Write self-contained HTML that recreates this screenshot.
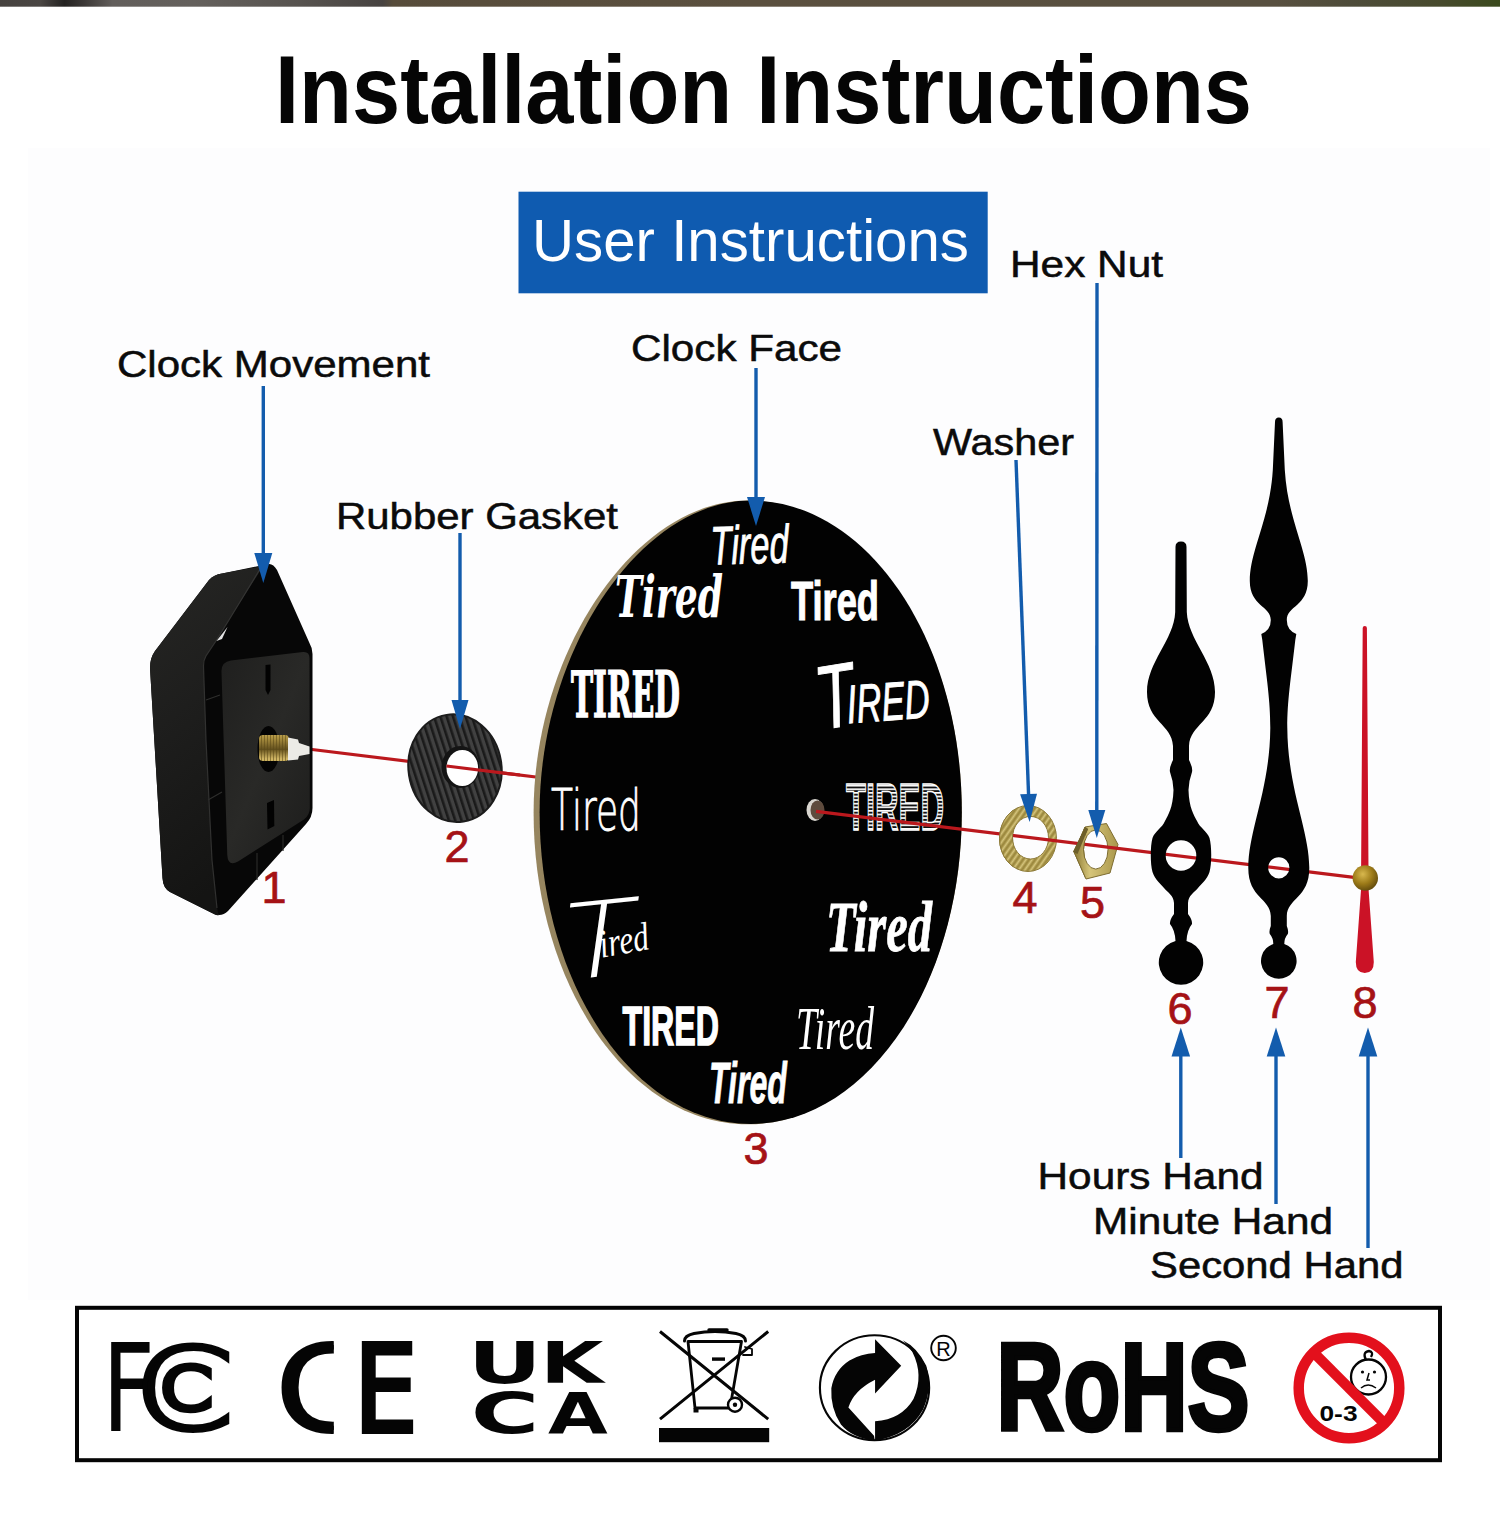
<!DOCTYPE html>
<html lang="en">
<head>
<meta charset="utf-8">
<title>Installation Instructions</title>
<style>
html,body{margin:0;padding:0;background:#fff;}
body{width:1500px;height:1514px;overflow:hidden;position:relative;font-family:"Liberation Sans",sans-serif;}
svg{position:absolute;left:0;top:0;display:block;}
.lab{font-family:"Liberation Sans",sans-serif;font-size:36px;fill:#0b0b0b;stroke:#0b0b0b;stroke-width:0.5px;}
.num{font-family:"Liberation Sans",sans-serif;font-size:45px;fill:#a51216;stroke:#a51216;stroke-width:0.7px;}
.arr{stroke:#135cad;stroke-width:3.4;fill:none;}
.arh{fill:#135cad;stroke:none;}
.w{fill:#fff;}
</style>
</head>
<body>
<svg width="1500" height="1514" viewBox="0 0 1500 1514">
<defs>
<linearGradient id="topstrip" x1="0" x2="1" y1="0" y2="0">
<stop offset="0" stop-color="#46423f"/><stop offset="0.027" stop-color="#4a4643"/><stop offset="0.043" stop-color="#242221"/><stop offset="0.056" stop-color="#3b3836"/><stop offset="0.075" stop-color="#625e5b"/><stop offset="0.13" stop-color="#64605c"/><stop offset="0.2" stop-color="#57534f"/><stop offset="0.255" stop-color="#474341"/><stop offset="0.262" stop-color="#574c3b"/><stop offset="0.5" stop-color="#5b503f"/><stop offset="0.85" stop-color="#585040"/><stop offset="0.9" stop-color="#4e4c3a"/><stop offset="0.96" stop-color="#474a2d"/><stop offset="1" stop-color="#3b4a1d"/>
</linearGradient>
</defs>
<rect x="0" y="0" width="1500" height="1514" fill="#ffffff"/>
<rect x="28" y="148" width="1462" height="1152" fill="#fdfdfe"/>
<!-- top photo strip -->
<rect id="topstrip-rect" x="0" y="0" width="1500" height="6.7" fill="url(#topstrip)"/>

<!-- TITLE -->
<text id="title" x="275" y="122.5" font-family="Liberation Sans, sans-serif" font-weight="700" font-size="96" fill="#050505" textLength="977" lengthAdjust="spacingAndGlyphs">Installation Instructions</text>

<!-- USER INSTRUCTIONS -->
<rect x="518.5" y="191.7" width="469.2" height="101.6" fill="#0f5bb0"/>
<text id="userinst" x="532" y="261" font-family="Liberation Sans, sans-serif" font-size="60" fill="#ffffff" textLength="437" lengthAdjust="spacingAndGlyphs">User Instructions</text>

<!--LABELS-->
<g class="lab">
<text x="117" y="376.5" textLength="313" lengthAdjust="spacingAndGlyphs">Clock Movement</text>
<text x="336" y="528.5" textLength="282" lengthAdjust="spacingAndGlyphs">Rubber Gasket</text>
<text x="631" y="361" textLength="211" lengthAdjust="spacingAndGlyphs">Clock Face</text>
<text x="933" y="455" textLength="141" lengthAdjust="spacingAndGlyphs">Washer</text>
<text x="1010" y="276.5" textLength="153" lengthAdjust="spacingAndGlyphs">Hex Nut</text>
<text x="1037.500" y="1189" textLength="226" lengthAdjust="spacingAndGlyphs">Hours Hand</text>
<text x="1093" y="1233.5" textLength="240" lengthAdjust="spacingAndGlyphs">Minute Hand</text>
<text x="1150" y="1277.5" textLength="253.5" lengthAdjust="spacingAndGlyphs">Second Hand</text>
</g>
<!--REDLINE-BACK-->
<line x1="300" y1="748.0" x2="540" y2="777.5" stroke="#bb181d" stroke-width="3.2"/>
<!--MOVEMENT-->
<g id="movement">
<defs>
<linearGradient id="mvside" x1="0" x2="0.25" y1="0" y2="1"><stop offset="0" stop-color="#262624"/><stop offset="0.45" stop-color="#1e1e1d"/><stop offset="1" stop-color="#141413"/></linearGradient>
<linearGradient id="mvplate" x1="0" x2="1" y1="0" y2="1"><stop offset="0" stop-color="#1f1f1e"/><stop offset="0.5" stop-color="#292927"/><stop offset="1" stop-color="#1d1d1c"/></linearGradient>
<linearGradient id="brass" x1="0" x2="0" y1="0" y2="1"><stop offset="0" stop-color="#6e5a22"/><stop offset="0.3" stop-color="#d2b866"/><stop offset="0.6" stop-color="#ab9040"/><stop offset="1" stop-color="#5e4c1c"/></linearGradient>
<pattern id="thread" width="3" height="30" patternUnits="userSpaceOnUse"><rect width="3" height="30" fill="url(#brass)"/><rect width="1" height="30" fill="#5a4816" opacity="0.55"/></pattern>
</defs>
<!-- silhouette -->
<path d="M268 564 Q273 563 277 570 L309 642 Q312.5 648 312.5 654 L312.5 808 Q312.5 817 306 824 L228 911 Q221 918 212 913 L170 892 Q163 888 162.5 878 L150 668 Q150 658 155 651 L209 580 Q214 574.5 222 573.5 Z" fill="#070707"/>
<!-- band (left + roof) face -->
<path d="M222 573.5 L258 567 Q263 566 260 571 L229 620 L216 641 L206 656 Q203.5 660 203.5 666 L206 740 L212 860 L216.5 905 L218.5 915.500 Q215 915 212 913 L170 892 Q163 888 162.5 878 L150 668 Q150 658 155 651 L209 580 Q214 574.5 222 573.5 Z" fill="url(#mvside)"/>
<!-- front edge highlight of band -->
<path d="M260 569 L229 620 L216 641 L206 656 Q203.5 660 203.5 666 L206 740 L212 860 L217 908" fill="none" stroke="#3a3a38" stroke-width="1.2" opacity="0.8"/>
<!-- front plate -->
<path d="M231 660.500 L303 652 Q309.500 651.500 309.500 658 L309.800 808 Q309.800 815 304 819.500 L238 861.500 Q228 867 227.300 855 L221.500 672 Q221 662 231 660.500 Z" fill="url(#mvplate)"/>
<!-- ribs (bottom interior) -->
<path d="M257 853 L257 880 M283 835 L283 851" stroke="#2a2a28" stroke-width="1.2" fill="none"/>
<path d="M206 700 L220 695 M208 800 L222 792" stroke="#2e2e2c" stroke-width="1.2" fill="none"/>
<!-- triangle highlight gap -->
<path d="M216.500 641 L227.500 627 L222 639 Z" fill="#e2e2e2"/>
<!-- slots -->
<path d="M265.500 665 L270.500 664.500 L270.500 690 L268 695 L265.500 690 Z" fill="#020202"/>
<path d="M267 803 L274 800 L274.300 826 L267.500 829.500 Z" fill="#020202"/>
<!-- shaft hole -->
<ellipse cx="268.500" cy="749" rx="11" ry="23" fill="#040404"/>
<!-- brass shaft -->
<rect x="259" y="735" width="30" height="26" rx="4" fill="url(#thread)"/>
<path d="M288 737.500 L298 739.500 L299 743 L309.500 746.500 L309.500 754 L299 756 L298 759.500 L288 760.500 Z" fill="#ecebe6"/>
</g>
<!--GASKET-->
<g id="gasket">
<defs>
<pattern id="ribs" width="6" height="6" patternUnits="userSpaceOnUse" patternTransform="rotate(-9)"><rect width="6" height="6" fill="#414141"/><rect width="2.6" height="6" fill="#1a1a1a"/></pattern>
</defs>
<ellipse cx="455" cy="768.2" rx="46.5" ry="54" fill="url(#ribs)" stroke="#1c1c1c" stroke-width="2" transform="rotate(-9 455 768.2)"/>
<ellipse cx="460.500" cy="767" rx="19" ry="21" fill="#141414"/>
<ellipse cx="462.300" cy="768" rx="15.800" ry="18" fill="#ffffff"/>
<line x1="446.500" y1="766.0" x2="520" y2="775.0" stroke="#bb181d" stroke-width="3.2"/>
</g>
<!--CLOCKFACE-->
<g id="clockface">
<defs><pattern id="stripes" width="4" height="3.6" patternUnits="userSpaceOnUse"><rect width="4" height="3.6" fill="#111"/><rect width="4" height="1.7" fill="#fff"/></pattern></defs>
<path d="M747.7 500.5 C865.9 500.5 961.8 640.1 961.8 812.4 C961.8 984.7 865.9 1124.3 747.7 1124.3 C629.5 1124.3 533.6 984.7 533.6 812.4 C533.6 650.2 636.4 500.5 747.7 500.5 Z" fill="#96855f"/>
<path d="M750.7 500.5 C867.3 500.5 961.8 640.0 961.8 812.2 C961.8 984.4 867.3 1123.9 750.7 1123.9 C634.1 1123.9 539.6 984.4 539.6 812.2 C539.6 650.1 640.9 500.5 750.7 500.5 Z" fill="#020202"/>
<g class="w" font-family="Liberation Sans, sans-serif">
<text id="t12" x="711" y="563.5" font-style="italic" font-size="54" textLength="78" lengthAdjust="spacingAndGlyphs" transform="rotate(-1.5 750 563)" stroke="#fff" stroke-width="0.9">Tired</text>
<text id="t1" x="791" y="619.5" font-weight="700" font-size="56" textLength="88" lengthAdjust="spacingAndGlyphs" stroke="#fff" stroke-width="1.2">Tired</text>
<g id="t2" font-style="italic" stroke="#fff" stroke-width="0.9"><text transform="rotate(-9 838 727)" x="821" y="727" font-size="90" textLength="38" lengthAdjust="spacingAndGlyphs">T</text><text transform="rotate(-4 850 722)" x="848" y="723" font-size="54" textLength="83" lengthAdjust="spacingAndGlyphs">IRED</text></g>
<text id="t3" x="846" y="830" font-weight="700" font-size="66" textLength="98" lengthAdjust="spacingAndGlyphs" fill="url(#stripes)" stroke="#fff" stroke-width="1.6">TIRED</text>
<text id="t4" x="826" y="951" font-family="Liberation Serif, serif" font-style="italic" font-weight="700" font-size="72" textLength="106" lengthAdjust="spacingAndGlyphs" stroke="#fff" stroke-width="0.8">Tired</text>
<text id="t5" x="796" y="1049" font-family="Liberation Serif, serif" font-style="italic" font-size="62" textLength="78" lengthAdjust="spacingAndGlyphs">Tired</text>
<text id="t6" x="709" y="1102.5" font-style="italic" font-weight="700" font-size="58" textLength="78" lengthAdjust="spacingAndGlyphs" stroke="#fff" stroke-width="0.8">Tired</text>
<text id="t7" x="622.5" y="1044.5" font-weight="700" font-size="56" textLength="96.5" lengthAdjust="spacingAndGlyphs" stroke="#fff" stroke-width="1.6">TIRED</text>
<g id="t8"><text transform="translate(557 981) rotate(-6) skewX(-14)" x="0" y="0" font-family="DejaVu Sans Light, DejaVu Sans, sans-serif" font-weight="200" font-size="104" textLength="74" lengthAdjust="spacingAndGlyphs">T</text><text transform="rotate(-10 600 955)" x="601" y="958" font-family="Liberation Serif, serif" font-style="italic" font-size="40" textLength="50" lengthAdjust="spacingAndGlyphs">ired</text></g>
<text id="t9" x="551" y="829.5" font-family="DejaVu Sans Light, DejaVu Sans, sans-serif" font-weight="200" font-size="57" textLength="90" lengthAdjust="spacingAndGlyphs" stroke="#fff" stroke-width="0.9">Tired</text>
<text id="t10" x="571" y="717" font-family="DejaVu Serif, serif" font-weight="700" font-size="63" textLength="109" lengthAdjust="spacingAndGlyphs" stroke="#fff" stroke-width="1.6">TIRED</text>
<text id="t11" x="615" y="616.5" font-family="DejaVu Serif, serif" font-style="italic" font-weight="700" font-size="58" textLength="108" lengthAdjust="spacingAndGlyphs">Tired</text>
</g>
<!-- centre hole -->
<ellipse cx="815" cy="810" rx="8.5" ry="11" fill="#d9d6d0"/>
<ellipse cx="817.5" cy="810" rx="7" ry="9.5" fill="#5e4b3d"/>
</g>
<!--REDLINE-FRONT-->
<!--WASHER-->
<g id="washer">
<defs>
<linearGradient id="gold" x1="0" x2="1" y1="0" y2="1"><stop offset="0" stop-color="#d3c176"/><stop offset="0.5" stop-color="#a8954c"/><stop offset="1" stop-color="#c7b464"/></linearGradient>
<linearGradient id="gold2" x1="0" x2="1" y1="0" y2="0"><stop offset="0" stop-color="#8d7a35"/><stop offset="0.35" stop-color="#d6c57a"/><stop offset="1" stop-color="#a9964a"/></linearGradient>
<pattern id="wtex" width="5" height="5" patternUnits="userSpaceOnUse" patternTransform="rotate(35)"><rect width="5" height="5" fill="#b9a65a"/><rect width="2" height="5" fill="#9d8a40"/><rect x="3" width="1" height="5" fill="#d4c47e"/></pattern>
<clipPath id="leftw"><rect x="990" y="790" width="23.500" height="100"/></clipPath>
<clipPath id="lefth"><rect x="1065" y="810" width="20" height="80"/></clipPath>
<path id="wring" fill-rule="evenodd" d="M999.5 838.5 A28.5 33 0 1 0 1056.5 838.5 A28.5 33 0 1 0 999.5 838.5 Z M1012.5 837.7 A18 21.3 0 1 1 1048.5 837.7 A18 21.3 0 1 1 1012.5 837.7 Z"/>
<path id="hexn" fill-rule="evenodd" d="M1085 827 L1106.5 823.5 L1118 844.5 L1110 873 L1086 879 L1074.5 853 Z M1083.5 849.5 A12.2 19.5 0 1 1 1108 849.5 A12.2 19.5 0 1 1 1083.5 849.5 Z"/>
</defs>
<use href="#wring" fill="url(#wtex)" stroke="#8d7b3a" stroke-width="1"/>
<use href="#hexn" fill="url(#gold2)" stroke="#7d6c30" stroke-width="1"/>
<path d="M1085 827 L1088 829 L1077.500 854 L1073 852 Z" fill="#6d5f2a"/>
</g>
<!--redfront moved-->
<line id="redfront" x1="816" y1="811.4" x2="1356" y2="877.7" stroke="#bb181d" stroke-width="3.2"/>
<g id="rimoverlay"><use href="#wring" fill="url(#wtex)" stroke="#8d7b3a" stroke-width="1" clip-path="url(#leftw)"/><use href="#hexn" fill="url(#gold2)" stroke="#7d6c30" stroke-width="1" clip-path="url(#lefth)"/><path d="M1085 827 L1088 829 L1077.500 854 L1073 852 Z" fill="#6d5f2a"/></g>
<!--HANDS-->
<path id="hourhand" fill="#020202" fill-rule="evenodd" d="M1175.5 547 Q1175.5 541.5 1181 541.5 Q1186.5 541.5 1186.5 547 L1186.8 612 C1188 640 1215 662 1215 692 C1215 722 1190 724 1189 746 L1189 760 Q1193 768 1192 772 Q1189 780 1188.5 790 C1189 808 1194 815 1197 821 C1200 828 1207 831 1209.5 838 C1211.8 846 1211.8 864 1209.5 872 C1207 880 1201 884 1198 888 C1194 893 1188.5 895 1188 903 L1188 914 Q1192.5 920 1192 924 Q1187 930 1186.5 941 A22.2 22.2 0 1 1 1175.5 941 Q1175 930 1170 924 Q1169.5 920 1174 914 L1174 903 C1173.5 895 1168 893 1164 888 C1161 884 1155 880 1152.5 872 C1150.2 864 1150.2 846 1152.5 838 C1155 831 1162 828 1165 821 C1168 815 1173 808 1173.5 790 Q1173 780 1170 772 Q1169 768 1173 760 L1173 746 C1172 724 1147 722 1147 692 C1147 662 1174 640 1175.2 612 L1175.5 547 Z M1165.7 855.5 A15.3 15.3 0 1 0 1196.3 855.5 A15.3 15.3 0 1 0 1165.7 855.5 Z"/>
<path id="minhand" fill="#020202" fill-rule="evenodd" d="
M1275.0 422 Q1275.0 417.5 1278.8 417.5 Q1282.6 417.5 1282.6 422
L1284.8 470
C1287.8 520 1307.8 550 1307.8 581
C1307.8 606 1286.8 606 1286.8 620
Q1286.8 630 1296.3 634 L1295.3 640
C1290.8 680 1287.3 700 1287.3 728
C1287.8 790 1309.3 830 1309.3 868
C1309.3 898 1287.3 898 1286.8 916
L1286.8 926 Q1288.8 931 1287.8 934 Q1284.3 938 1284.3 944
A17.8 17.8 0 1 1 1273.3 944
Q1273.3 938 1269.8 934 Q1268.8 931 1270.8 926 L1270.8 916
C1270.3 898 1248.3 898 1248.3 868
C1248.3 830 1269.8 790 1270.3 728
C1270.3 700 1266.8 680 1262.3 640
L1261.3 634 Q1270.8 630 1270.8 620
C1270.8 606 1249.8 606 1249.8 581
C1249.8 550 1269.8 520 1272.8 470 Z
M1268.2 867.8 A10.6 10.6 0 1 0 1289.3999999999999 867.8 A10.6 10.6 0 1 0 1268.2 867.8 Z"/>
<g id="sechand">
<path fill="#cb1226" d="M1362.7 628 Q1362.7 626 1364.8 626 Q1366.8999999999999 626 1366.8999999999999 628 L1368.5 870 L1368.6 890 L1373.8 962 Q1373.8 973 1364.8 973 Q1355.8 973 1355.8 962 L1361.0 890 L1361.1 870 Z"/>
</g>
<g id="secnut">
<defs><radialGradient id="nutg" cx="0.4" cy="0.35" r="0.7"><stop offset="0" stop-color="#d8b84e"/><stop offset="0.55" stop-color="#9c7a18"/><stop offset="1" stop-color="#5e470c"/></radialGradient></defs>
<circle cx="1365.3" cy="878" r="12.7" fill="url(#nutg)"/>
</g>
<!--ARROWS-->
<g>
<line class="arr" x1="263.3" y1="386" x2="263.3" y2="557.0"/><polygon class="arh" points="263.3,583.0 254.3,553.0 272.3,553.0"/>
<line class="arr" x1="460" y1="533" x2="460.0" y2="704.0"/><polygon class="arh" points="460.0,729.0 451.5,700.0 468.5,700.0"/>
<line class="arr" x1="756" y1="368" x2="756.0" y2="501.0"/><polygon class="arh" points="756.0,526.0 747.0,497.0 765.0,497.0"/>
<line class="arr" x1="1016" y1="460" x2="1028.7" y2="798.0"/><polygon class="arh" points="1029.6,822.0 1020.1,794.3 1037.0,793.7"/>
<line class="arr" x1="1097" y1="283" x2="1096.8" y2="814.0"/><polygon class="arh" points="1096.8,838.0 1088.3,810.0 1105.3,810.0"/>
<line class="arr" x1="1180.8" y1="1158" x2="1180.8" y2="1052.5"/><polygon class="arh" points="1180.8,1027.5 1190.1,1056.5 1171.5,1056.5"/>
<line class="arr" x1="1276" y1="1204" x2="1276.0" y2="1052.5"/><polygon class="arh" points="1276.0,1027.5 1285.3,1056.5 1266.7,1056.5"/>
<line class="arr" x1="1368" y1="1248" x2="1368.0" y2="1052.5"/><polygon class="arh" points="1368.0,1027.5 1377.3,1056.5 1358.7,1056.5"/>
</g>
<!--NUMBERS-->
<g class="num" text-anchor="middle">
<text x="274" y="903">1</text>
<text x="457" y="862">2</text>
<text x="756" y="1164">3</text>
<text x="1025" y="912.5">4</text>
<text x="1092.5" y="918">5</text>
<text x="1180" y="1023.5">6</text>
<text x="1277" y="1018">7</text>
<text x="1365" y="1018">8</text>
</g>
<!--CERTS-->
<g id="certs">
<rect x="77" y="1307.8" width="1363" height="152.4" fill="#fff" stroke="#050505" stroke-width="4"/>
<!-- FCC -->
<g id="fcc" font-family="DejaVu Sans Light, DejaVu Sans, sans-serif" font-weight="200" fill="#050505" stroke="#050505" stroke-linejoin="miter">
<text transform="translate(102.5 1427.5) scale(0.8 1)" font-size="113.500" stroke-width="6">F</text>
<text transform="translate(133 1428.500) scale(1.27 1)" font-size="114.6" stroke-width="4">C</text>
<text transform="translate(160 1408.500) scale(1.26 1)" font-size="58.8" stroke-width="6.5">C</text>
</g>
<!-- CE -->
<g id="ce" font-family="DejaVu Sans Light, DejaVu Sans, sans-serif" font-weight="200" fill="#050505" stroke="#050505" stroke-linejoin="miter">
<clipPath id="ceclip"><rect x="270" y="1330" width="63.800" height="115"/></clipPath><g clip-path="url(#ceclip)"><text transform="translate(275 1428) scale(1.24 1)" font-size="111.8" stroke-width="8">C</text></g>
<text transform="translate(354 1428.500) scale(0.885 1)" font-size="113.9" stroke-width="10">E</text>
</g>
<!-- UKCA -->
<g id="ukca" font-family="DejaVu Sans, sans-serif" font-weight="700" font-size="57" fill="#050505">
<text transform="translate(467.8 1382.5) scale(1.6 1)">U</text>
<text transform="translate(540.3 1382.5) scale(1.43 1)">K</text>
<text transform="translate(470.7 1434) scale(1.64 1)">C</text>
<text transform="translate(548 1434) scale(1.355 1)">A</text>
</g>
<!-- WEEE -->
<g id="weee" fill="none" stroke="#050505" stroke-width="2.8" stroke-linejoin="round" stroke-linecap="round">
<path d="M688 1341.500 L741.500 1341.500 L730 1408 L695 1408 Z"/>
<path d="M684.500 1341 Q684.500 1335.500 694 1333.500 Q715 1329.500 736 1333.500 Q745.500 1335.500 745.500 1341" stroke-width="3"/>
<path d="M709 1330 L727 1330" stroke-width="3.4"/>
<path d="M745 1347 L752 1349 L752 1355 L743 1355" stroke-width="1.8"/>
<rect x="712" y="1357.400" width="13" height="3.4" fill="#050505" stroke="none"/>
<rect x="693.500" y="1408" width="5" height="4.5" fill="#050505" stroke="none"/>
<circle cx="735" cy="1404.700" r="7" fill="#fff" stroke-width="2.4"/>
<circle cx="735" cy="1404.700" r="2.2" fill="#050505" stroke="none"/>
<path d="M660 1331.500 L768.200 1419.200 M768.200 1331.500 L660 1419.200" stroke-width="3" stroke-linecap="butt"/>
<rect x="659" y="1428" width="110.200" height="14.200" fill="#050505" stroke="none"/>
</g>
<!-- Green dot -->
<g id="greendot">
<g transform="translate(810,1320) scale(0.1066667)">
<ellipse cx="605" cy="635" rx="512" ry="492" fill="#fff" stroke="#050505" stroke-width="20"/>
<path fill="#050505" d="M610 180 L855 430 L610 690 L610 560 Q410 660 360 820 L600 1085 L608 1130 Q400 1110 290 980 Q190 830 200 640 Q230 470 370 380 Q480 315 610 310 Z"/>
<path fill="#050505" d="M870 190 Q1010 260 1090 430 Q1150 640 1060 840 Q930 1080 610 1132 L610 950 Q860 930 970 740 Q1070 520 960 300 Q920 230 870 190 Z"/>
</g>
<circle cx="943.5" cy="1348" r="12.3" fill="none" stroke="#050505" stroke-width="1.9"/>
<text x="943.5" y="1355.5" text-anchor="middle" font-family="Liberation Sans, sans-serif" font-size="20" fill="#050505">R</text>
</g>
<!-- RoHS -->
<text id="rohs" x="996.500" y="1430" font-family="Liberation Sans, sans-serif" font-weight="700" font-size="123.500" textLength="253" lengthAdjust="spacingAndGlyphs" fill="#050505" stroke="#050505" stroke-width="4.5" stroke-linejoin="miter">RoHS</text>
<!-- 0-3 -->
<g id="age">
<circle cx="1349" cy="1388" r="50.3" fill="#fff" stroke="#e3101c" stroke-width="10.5"/>
<circle cx="1368.500" cy="1377" r="17.5" fill="#fff" stroke="#050505" stroke-width="2.3"/>
<path d="M1366 1360 Q1362 1352 1369 1351 Q1374 1352 1371 1357" fill="none" stroke="#050505" stroke-width="2.3"/>
<circle cx="1362.500" cy="1372" r="1.6" fill="#050505"/><circle cx="1374.500" cy="1372" r="1.6" fill="#050505"/>
<path d="M1369 1373 L1367 1380 L1370 1380 M1361 1388 Q1368 1382 1376 1388" fill="none" stroke="#050505" stroke-width="1.5"/>
<text x="1319.500" y="1420.500" font-family="Liberation Sans, sans-serif" font-weight="700" font-size="22" fill="#050505" textLength="38" lengthAdjust="spacingAndGlyphs">0-3</text>
<line x1="1313.400" y1="1352.400" x2="1384.600" y2="1423.600" stroke="#e3101c" stroke-width="10.5"/>
</g>
</g>
</svg>
</body>
</html>
